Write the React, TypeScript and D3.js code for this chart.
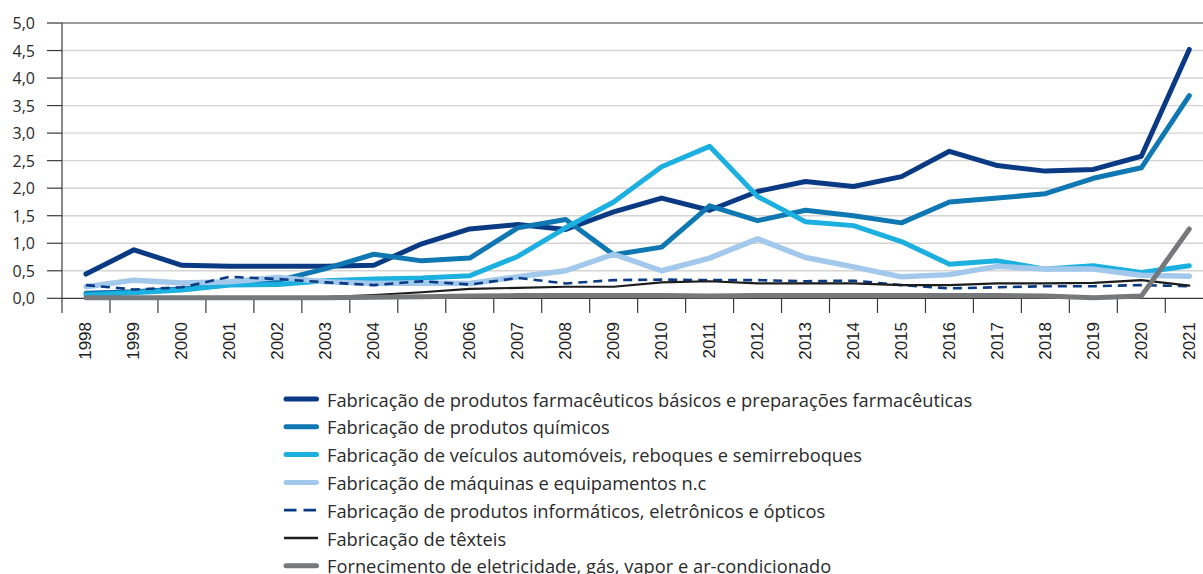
import React from 'react';
import * as d3 from 'd3';

const years = ['1998','1999','2000','2001','2002','2003','2004','2005','2006','2007','2008','2009','2010','2011','2012','2013','2014','2015','2016','2017','2018','2019','2020','2021'];
const yTicks = [0, 0.5, 1, 1.5, 2, 2.5, 3, 3.5, 4, 4.5, 5];

const farmaceuticos = [0.44,0.88,0.60,0.58,0.58,0.58,0.60,0.99,1.26,1.34,1.25,1.57,1.82,1.60,1.94,2.12,2.03,2.21,2.67,2.41,2.31,2.34,2.58,4.52];
const quimicos = [0.09,0.12,0.17,0.25,0.32,0.54,0.80,0.68,0.73,1.28,1.43,0.79,0.93,1.68,1.41,1.60,1.50,1.37,1.75,1.82,1.90,2.18,2.37,3.68];
const veiculos = [0.06,0.10,0.15,0.24,0.25,0.32,0.35,0.37,0.41,0.76,1.28,1.75,2.39,2.76,1.85,1.39,1.32,1.03,0.62,0.68,0.53,0.59,0.47,0.59];
const maquinas = [0.21,0.33,0.28,0.30,0.38,0.30,0.27,0.28,0.27,0.39,0.50,0.80,0.50,0.73,1.08,0.74,0.57,0.39,0.43,0.58,0.53,0.53,0.42,0.40];
const informaticos = [0.24,0.16,0.20,0.39,0.35,0.29,0.24,0.31,0.25,0.37,0.27,0.33,0.34,0.33,0.33,0.31,0.32,0.24,0.18,0.20,0.22,0.22,0.24,0.22];
const texteis = [0.01,0.01,0.01,0.01,0.01,0.02,0.06,0.11,0.17,0.19,0.21,0.21,0.29,0.31,0.27,0.27,0.27,0.24,0.24,0.27,0.27,0.28,0.33,0.23];
const eletricidade = [0.01,0.01,0.01,0.01,0.01,0.01,0.02,0.03,0.04,0.05,0.05,0.05,0.05,0.04,0.05,0.05,0.05,0.05,0.05,0.05,0.04,0.01,0.04,1.26];

const seriesNames = [
  'Fabricação de produtos farmacêuticos básicos e preparações farmacêuticas',
  'Fabricação de produtos químicos',
  'Fabricação de veículos automóveis, reboques e semirreboques',
  'Fabricação de máquinas e equipamentos n.c',
  'Fabricação de produtos informáticos, eletrônicos e ópticos',
  'Fabricação de têxteis',
  'Fornecimento de eletricidade, gás, vapor e ar-condicionado',
];
const seriesValues = [farmaceuticos, quimicos, veiculos, maquinas, informaticos, texteis, eletricidade];
const seriesStyles = [
  { color: '#0b3a84', width: 5, dash: '', legendWidth: 5 },
  { color: '#0f77b2', width: 5, dash: '', legendWidth: 5 },
  { color: '#1bb0e0', width: 5, dash: '', legendWidth: 5 },
  { color: '#a2c8ec', width: 5.5, dash: '', legendWidth: 5 },
  { color: '#0b3a84', width: 2.6, dash: '9 6', legendWidth: 2.8 },
  { color: '#1c1c1c', width: 2.2, dash: '', legendWidth: 2.4 },
  { color: '#77787b', width: 5, dash: '', legendWidth: 5 },
];

const W = 1203;
const H = 574;
const left = 62;
const step = 47.97;
const top = 23;
const bottom = 298.3;

export default function App() {
  const x = d3.scaleBand<string>().domain(years).range([left, left + step * years.length]).padding(0);
  const y = d3.scaleLinear().domain([0, 5]).range([bottom, top]);
  const cx = (yr: string) => (x(yr) as number) + x.bandwidth() / 2;
  const line = d3.line<number>().x((_, i) => cx(years[i])).y((v) => y(v));

  const font = '"Open Sans", "Noto Sans", sans-serif';
  const legendY0 = 399;
  const legendStep = 27.8;

  return (
    <svg width={W} height={H} style={{ position: 'absolute', left: 0, top: 0, background: '#fff' }}>
      {yTicks.map((t) => (
        <g key={t}>
          {t !== 0 && t !== 5 && (
            <line x1={left} x2={W} y1={y(t)} y2={y(t)} stroke="#d4d4d4" strokeWidth={1.4} />
          )}
          <line x1={47} x2={left} y1={y(t)} y2={y(t)} stroke="#3a3a3a" strokeWidth={1.2} />
          <text x={35} y={y(t)} textAnchor="end" dominantBaseline="central" fontFamily={font} fontSize={16} fill="#2a2a2a">
            {t.toFixed(1).replace('.', ',')}
          </text>
        </g>
      ))}
      <line x1={left} x2={W} y1={y(5)} y2={y(5)} stroke="#3a3a3a" strokeWidth={1.2} />
      <line x1={left} x2={W} y1={y(0)} y2={y(0)} stroke="#3a3a3a" strokeWidth={1.2} />
      <line x1={left} x2={left} y1={top} y2={313} stroke="#3a3a3a" strokeWidth={1.2} />
      {years.slice(1).map((yr) => (
        <line key={yr} x1={x(yr) as number} x2={x(yr) as number} y1={bottom} y2={313} stroke="#3a3a3a" strokeWidth={1.2} />
      ))}
      {years.map((yr) => (
        <text key={yr} transform={`translate(${cx(yr)},322) rotate(-90)`} textAnchor="end" dominantBaseline="central"
          fontFamily='"Liberation Sans", Arial, sans-serif' fontSize={17} fill="#222">
          {yr}
        </text>
      ))}
      {seriesValues.map((vals, i) => (
        <path key={i} d={line(vals) || ''} fill="none" stroke={seriesStyles[i].color} strokeWidth={seriesStyles[i].width}
          strokeDasharray={seriesStyles[i].dash || undefined} strokeLinejoin="round" strokeLinecap={seriesStyles[i].dash ? 'butt' : 'round'} />
      ))}
      {seriesNames.map((name, i) => {
        const ly = legendY0 + i * legendStep;
        const s = seriesStyles[i];
        return (
          <g key={name}>
            {s.dash ? (
              <line x1={284} x2={316} y1={ly} y2={ly} stroke={s.color} strokeWidth={s.legendWidth} strokeDasharray="12.5 7" />
            ) : (
              <line x1={s.legendWidth > 3 ? 286 : 284} x2={s.legendWidth > 3 ? 316.5 : 318} y1={ly} y2={ly} stroke={s.color}
                strokeWidth={s.legendWidth} strokeLinecap={s.legendWidth > 3 ? 'round' : 'butt'} />
            )}
            <text x={327} y={ly} dominantBaseline="central" fontFamily={font} fontSize={18.3} fill="#2a2a2a">
              {name}
            </text>
          </g>
        );
      })}
    </svg>
  );
}
